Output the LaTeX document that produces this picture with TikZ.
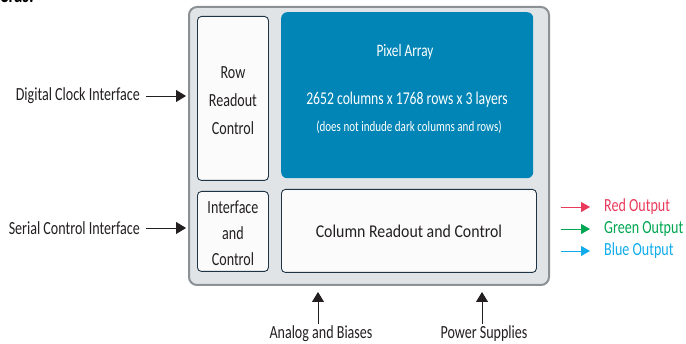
\documentclass[tikz,border=0pt]{standalone}
\usepackage{fontspec}
\setmainfont{Carlito}[FakeStretch=0.76]
\newfontfamily\widefont{Carlito}[FakeStretch=0.88]
\usetikzlibrary{arrows.meta}
\definecolor{framegray}{HTML}{8C9196}
\definecolor{panelgray}{HTML}{E1E4E7}
\definecolor{boxedge}{HTML}{1E3445}
\definecolor{pixelblue}{HTML}{0085B6}
\definecolor{redout}{HTML}{EA3A5C}
\definecolor{greenout}{HTML}{00A651}
\definecolor{blueout}{HTML}{10ACEB}
\definecolor{inktext}{HTML}{231F20}
\tikzset{
  blockbox/.style={draw=boxedge, line width=0.9pt, fill=white!97!gray, rounded corners=4pt},
  sigarrow/.style={-{Triangle[length=10pt,width=12pt]}, line width=0.9pt, draw=inktext},
  outarrow/.style={-{Triangle[length=9pt,width=10pt]}, line width=0.9pt},
  lbl/.style={text=inktext, font=\fontsize{18.5}{20}\selectfont, inner sep=0pt},
}
\begin{document}
\begin{tikzpicture}[x=1pt,y=-1pt]
\useasboundingbox (0,0) rectangle (686,344);
% heading fragment at the top edge
\node[anchor=base west, font=\bfseries\fontsize{22}{24}\selectfont, inner sep=0pt] (head) at (0,3) {eras:};
% sensor frame
\draw[framegray, line width=2pt, fill=panelgray, rounded corners=8pt] (189,7) rectangle (549,285);
\node[blockbox, minimum width=71pt, minimum height=164pt, anchor=north west] (row) at (197,16) {};
\node[lbl, align=center, font=\fontsize{18.5}{28}\selectfont] at ([yshift=-2pt]row.center) {Row\\Readout\\Control};
\node[fill=pixelblue, rounded corners=6pt, minimum width=252pt, minimum height=166pt, anchor=north west, inner sep=0pt] (pix) at (281,12) {};
\node[text=white, font=\fontsize{17.5}{18}\selectfont, inner sep=0pt] at (405,52) {Pixel Array};
\node[text=white, font=\fontsize{18}{20}\selectfont, inner sep=0pt] at (407,100) {2652 columns x 1768 rows x 3 layers};
\node[text=white, font=\fontsize{14.5}{15}\selectfont, inner sep=0pt] at (409,127) {(does not indude dark columns and rows)};
\node[blockbox, minimum width=71pt, minimum height=80pt, anchor=north west] (ifc) at (197,191) {};
\node[lbl, align=center, font=\fontsize{18.5}{26}\selectfont] at ([yshift=-2pt]ifc.center) {Interface\\and\\Control};
\node[blockbox, minimum width=255pt, minimum height=83pt, anchor=north west] (col) at (281,189) {};
\node[lbl, font=\widefont\fontsize{18}{20}\selectfont] at (col.center) {Column Readout and Control};
% input signals
\node[lbl, anchor=east] (dci) at (140,96) {Digital Clock Interface};
\node[lbl, anchor=east] (sci) at (140,228) {Serial Control Interface};
\coordinate (dciend) at (186,96);
\coordinate (sciend) at (186,228);
\draw[sigarrow] ([xshift=6pt]dci.east) -- (dciend);
\draw[sigarrow] ([xshift=6pt]sci.east) -- (sciend);
\node[lbl, anchor=base] (ana) at (321,339) {Analog and Biases};
\node[lbl, anchor=base] (pwr) at (484,339) {Power Supplies};
\coordinate (anaend) at (318,292);
\coordinate (pwrend) at (482,292);
\draw[sigarrow] (318,324) -- (anaend);
\draw[sigarrow] (482,324) -- (pwrend);
% colour outputs
\node[lbl, text=redout, anchor=west] (rout) at (604,207) {Red Output};
\node[lbl, text=greenout, anchor=west] (gout) at (604,229) {Green Output};
\node[lbl, text=blueout, anchor=west] (bout) at (604,251) {Blue Output};
\coordinate (rst) at (561,207);
\coordinate (gst) at (561,229);
\coordinate (bst) at (561,251);
\draw[outarrow, redout] (rst) -- (590,207);
\draw[outarrow, greenout] (gst) -- (590,229);
\draw[outarrow, blueout] (bst) -- (590,251);
\end{tikzpicture}
\end{document}
